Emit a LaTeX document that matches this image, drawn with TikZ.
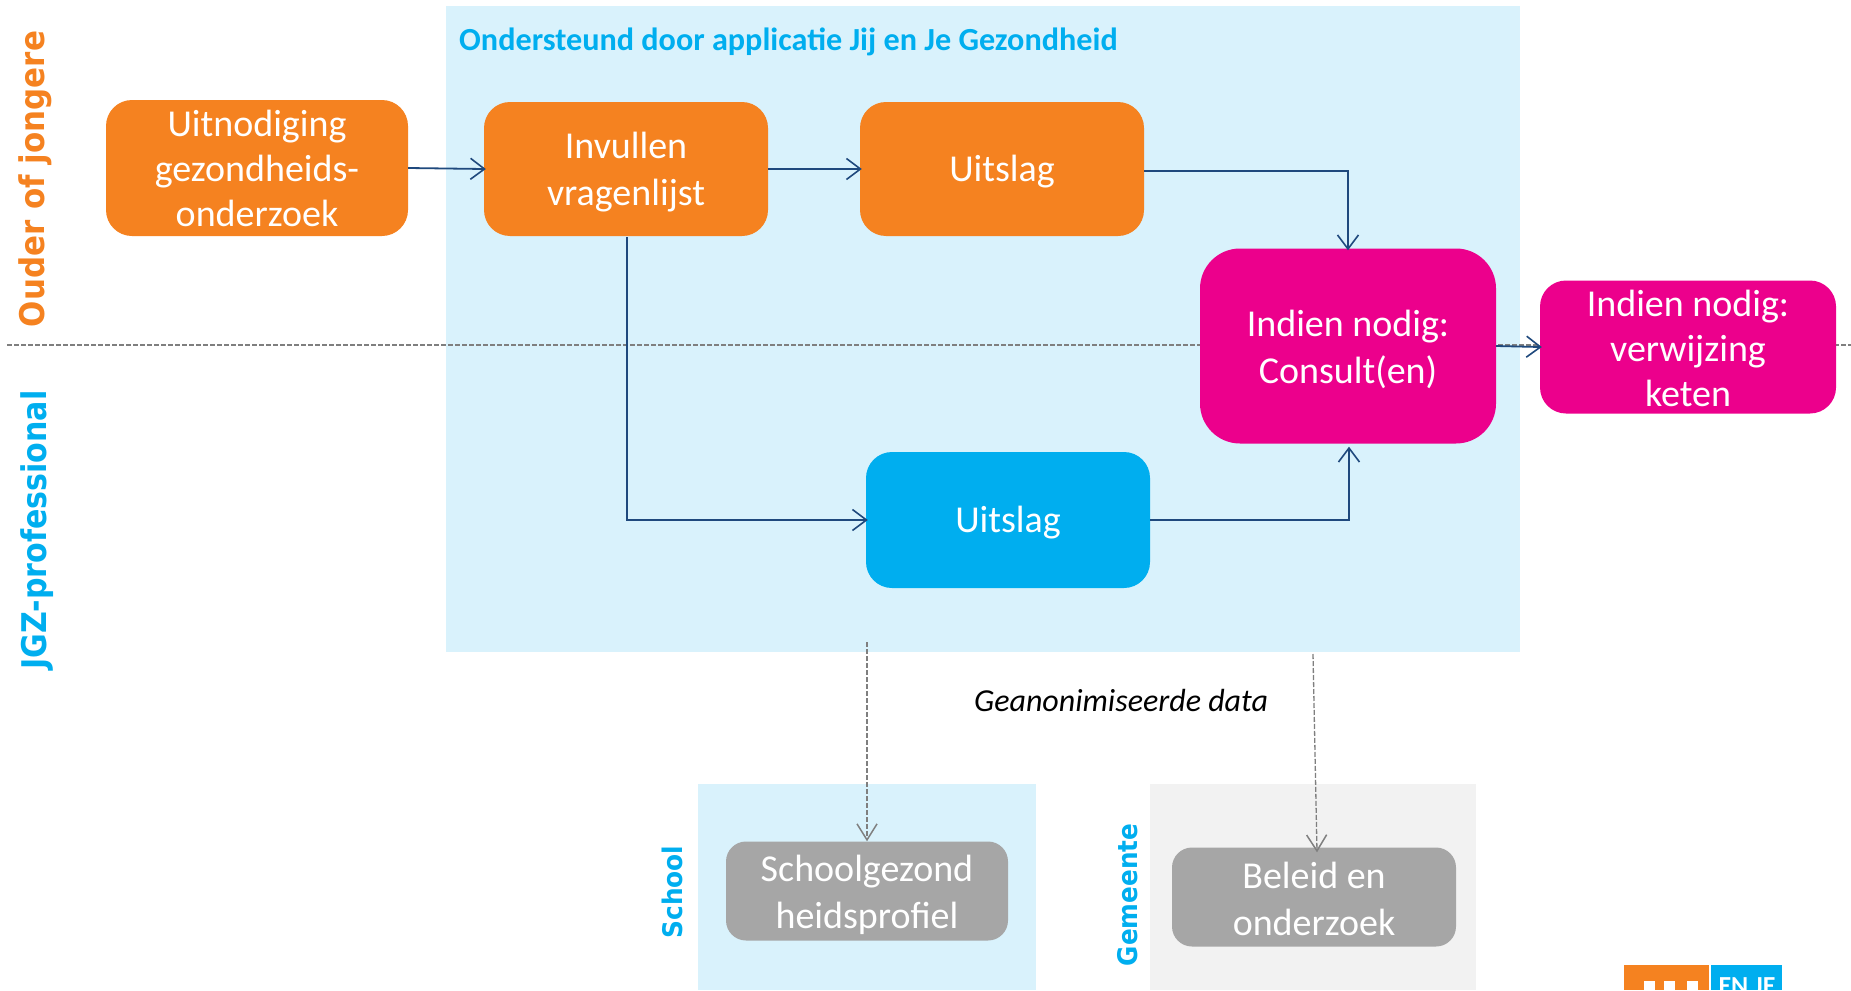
\documentclass[tikz,border=0pt]{standalone}
\usepackage{graphicx}
\usepackage{fontspec}
\setmainfont{Carlito}
\newfontfamily\vfont{DejaVu Sans}
\usetikzlibrary{arrows.meta,calc}
\definecolor{panelblue}{HTML}{D9F2FC}
\definecolor{panelgray}{HTML}{F2F2F2}
\definecolor{cOrange}{HTML}{F58220}
\definecolor{cMagenta}{HTML}{EC008C}
\definecolor{cBlue}{HTML}{00AEEF}
\definecolor{cGray}{HTML}{A6A6A6}
\definecolor{cNavy}{HTML}{1F497D}
\definecolor{cDash}{HTML}{7F7F7F}
\newcommand{\dn}[2]{\raisebox{-#1pt}[\height][\depth]{#2}}
\tikzset{
  boxbase/.style={rounded corners=26pt,text=white,align=center,inner sep=0pt,
    font=\fontsize{38}{47}\selectfont},
  orangebox/.style={boxbase,fill=cOrange},
  bluebox/.style={boxbase,fill=cBlue},
  pinkbox/.style={boxbase,fill=cMagenta},
  graybox/.style={boxbase,fill=cGray,rounded corners=20pt},
  panel/.style={fill=panelblue},
  arr/.style={draw=cNavy,line width=1.8pt,shorten >=-2pt,-{Straight Barb[length=14pt,width=21pt,line width=1.6pt]}},
  darr/.style={draw=cDash,line width=1.3pt,dash pattern=on 5pt off 2pt,-{Straight Barb[length=16pt,width=20pt,line width=1.5pt]}},
  sep/.style={draw=cDash,line width=1.3pt,dash pattern=on 5pt off 2pt},
  sidelabel/.style={font=\vfont\bfseries\fontsize{34}{34}\selectfont,rotate=90,inner sep=0pt},
  smalllabel/.style={font=\vfont\bfseries\fontsize{27}{27}\selectfont,rotate=90,inner sep=0pt,text=cBlue},
}
\begin{document}
\begin{tikzpicture}[x=1pt,y=-1pt]
\useasboundingbox (0,0) rectangle (1851,990);
\clip (0,0) rectangle (1851,990);
\fill[white] (0,0) rectangle (1851,990);
% panels
\fill[panel] (446,6) rectangle (1520,652);
\fill[panel] (698,784) rectangle (1036,990);
\fill[panelgray] (1150,784) rectangle (1476,990);
% separator
\coordinate (sepL) at (7,345);
\coordinate (sepR) at (1851,345);
\draw[sep] (sepL) -- (sepR);
% labels
\node[sidelabel,text=cOrange] (lOuder) at (35,179) {\scalebox{0.91}[1]{Ouder of jongere}};
\node[sidelabel,text=cBlue] (lJGZ) at (37,530) {\scalebox{0.885}[1]{JGZ-professional}};
\node[smalllabel] (lSchool) at (672,892) {\scalebox{0.92}[1]{School}};
\node[smalllabel] (lGem) at (1128,895) {\scalebox{0.915}[1]{Gemeente}};
\node[text=cBlue,anchor=west,inner sep=0pt,font=\bfseries\fontsize{32.2}{38}\selectfont] (title) at (459,42) {Ondersteund door applicatie Jij en Je Gezondheid};
\node[inner sep=0pt,font=\itshape\fontsize{32}{38}\selectfont] (anon) at (1121,700) {Geanonimiseerde data};
% boxes
\node[orangebox,minimum width=302pt,minimum height=136pt,font=\fontsize{38}{45}\selectfont] (uit) at (257,168) {Uitnodiging\\gezondheids-\\onderzoek};
\node[orangebox,minimum width=284pt,minimum height=134pt] (inv) at (626,169) {\dn{3.5}{Invullen}\\\dn{3.5}{vragenlijst}};
\node[orangebox,minimum width=284pt,minimum height=134pt] (u1) at (1002,169) {\dn{3}{Uitslag}};
\node[pinkbox,rounded corners=40pt,minimum width=296pt,minimum height=195pt] (con) at (1348,346) {\dn{3.5}{Indien nodig:}\\\dn{3.5}{Consult(en)}};
\node[pinkbox,minimum width=296pt,minimum height=133pt,font=\fontsize{38}{45}\selectfont] (ver) at (1688,347) {\dn{1}{Indien nodig:}\\\dn{1}{verwijzing}\\\dn{1}{keten}};
\node[bluebox,minimum width=284pt,minimum height=136pt] (u2) at (1008,520) {\dn{3}{Uitslag}};
\node[graybox,minimum width=282pt,minimum height=99pt] (sch) at (867,891) {\dn{3.5}{Schoolgezond}\\\dn{3.5}{heidsprofiel}};
\node[graybox,minimum width=284pt,minimum height=99pt] (bel) at (1314,897) {\dn{2}{Beleid en}\\\dn{2}{onderzoek}};
% connectors
\draw[arr] (uit.east) -- (inv.west);
\draw[arr] (inv.east) -- (u1.west);
\draw[arr] ($(u1.east)+(0,2)$) -| (con.north);
\draw[arr] ($(inv.south)+(1,1)$) |- (u2.west);
\coordinate (conS) at ($(con.south)+(1,5)$);
\draw[arr] (u2.east) -| (conS);
\draw[arr] (con.east) -- (ver.west);
\coordinate (d1) at (867,642);
\coordinate (d2) at (1313,654);
\draw[darr] (d1) -- (sch.north);
\draw[darr] (d2) -- ($(bel.north)+(3,5)$);
% logo
\fill[cOrange] (1624,965) rectangle (1709,990);
\fill[white] (1644,981) rectangle (1655,990);
\fill[white] (1664,981) rectangle (1675,990);
\fill[white] (1687,981) rectangle (1698,990);
\fill[cBlue] (1711,965) rectangle (1782,990);
\node[text=white,inner sep=0pt,anchor=base,font=\bfseries\fontsize{26}{26}\selectfont] (logo) at (1747,994) {EN JE};
\end{tikzpicture}
\end{document}
